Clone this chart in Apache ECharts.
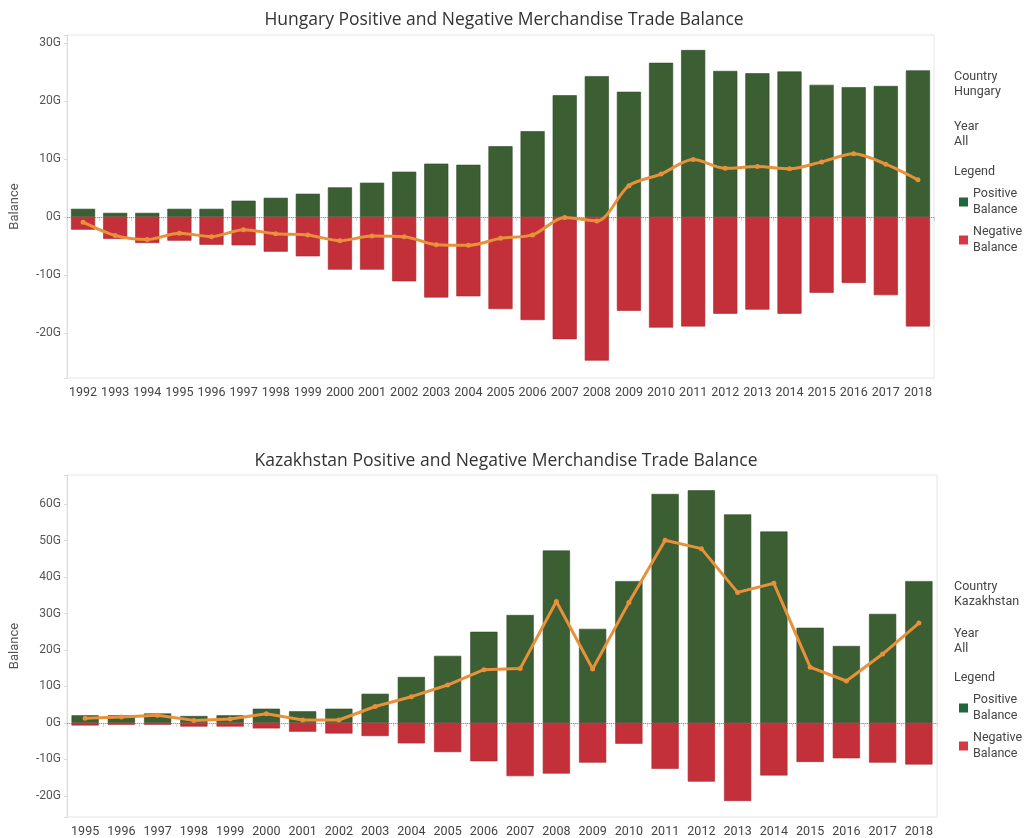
<!DOCTYPE html>
<html>
<head>
<meta charset="utf-8">
<title>Merchandise Trade Balance</title>
<script src="https://cdn.jsdelivr.net/npm/echarts@6/dist/echarts.min.js"></script>
<style>
  html, body { margin: 0; padding: 0; background: #fff; }
  #main { width: 1030px; height: 838px; }
</style>
</head>
<body>
<div id="main"></div>
<script>
// Hungary (values in G)
const huYears = ['1992','1993','1994','1995','1996','1997','1998','1999','2000','2001','2002','2003','2004','2005',
  '2006','2007','2008','2009','2010','2011','2012','2013','2014','2015','2016','2017','2018']
const huPositive = [1.4, 0.7, 0.7, 1.4, 1.4, 2.8, 3.3, 4.0, 5.1, 5.9, 7.8, 9.2, 9.0, 12.2,
  14.8, 21.0, 24.3, 21.6, 26.6, 28.8, 25.2, 24.8, 25.1, 22.8, 22.4, 22.6, 25.3]
const huNegative = [-2.2, -3.8, -4.5, -4.1, -4.8, -4.9, -6.0, -6.8, -9.1, -9.1, -11.1, -13.9, -13.7, -15.9,
  -17.8, -21.1, -24.8, -16.2, -19.1, -18.9, -16.7, -16.0, -16.7, -13.1, -11.4, -13.5, -18.9]
const huNet = [-0.9, -3.2, -3.9, -2.8, -3.4, -2.2, -2.9, -3.1, -4.1, -3.3, -3.4, -4.8, -4.9, -3.7,
  -3.1, -0.1, -0.7, 5.4, 7.4, 9.9, 8.4, 8.7, 8.3, 9.5, 10.9, 9.1, 6.4]

// Kazakhstan (values in G)
const kzYears = ['1995','1996','1997','1998','1999','2000','2001','2002','2003','2004','2005','2006',
  '2007','2008','2009','2010','2011','2012','2013','2014','2015','2016','2017','2018']
const kzPositive = [2.1, 2.1, 2.6, 1.9, 2.1, 3.9, 3.2, 3.9, 8.0, 12.6, 18.4, 25.0,
  29.6, 47.3, 25.8, 38.9, 62.8, 63.8, 57.2, 52.5, 26.1, 21.1, 29.9, 38.9]
const kzNegative = [-0.7, -0.5, -0.5, -1.0, -1.0, -1.5, -2.4, -2.9, -3.6, -5.6, -8.0, -10.5,
  -14.6, -13.9, -10.9, -5.7, -12.6, -16.1, -21.4, -14.4, -10.7, -9.7, -10.9, -11.4]
const kzNet = [1.3, 1.6, 2.1, 0.7, 1.1, 2.5, 0.8, 0.8, 4.5, 7.2, 10.4, 14.6,
  14.9, 33.3, 14.8, 33.0, 50.1, 47.8, 35.8, 38.3, 15.3, 11.5, 18.9, 27.4]

const GREEN = '#3b5e32'
const RED = '#c3303a'
const ORANGE = '#e8913a'
const FONT = 'Roboto'

const chart = echarts.init(document.getElementById('main'))

function yAxisFor(gridIndex, min, max, split) {
  return {
    type: 'value',
    gridIndex: gridIndex,
    min: min,
    max: max,
    splitNumber: split,
    name: 'Balance',
    nameLocation: 'middle',
    nameGap: 46,
    nameTextStyle: {color: '#555', fontSize: 13, fontFamily: FONT},
    axisLine: {show: true, lineStyle: {color: '#dcdcdc'}},
    axisTick: {show: true, length: 3, lineStyle: {color: '#dcdcdc'}},
    splitLine: {show: false},
    axisLabel: {
      color: '#555',
      fontSize: 12,
      fontFamily: FONT,
      margin: 6,
      formatter: function (v) {
        return Math.abs(v % 10) < 1e-6 ? Math.round(v) + 'G' : ''
      }
    }
  }
}

function xAxisFor(gridIndex, data) {
  return {
    type: 'category',
    gridIndex: gridIndex,
    data: data,
    boundaryGap: true,
    axisLine: {show: true, lineStyle: {color: '#d6d6d6'}},
    axisTick: {show: true, length: 4, lineStyle: {color: '#d6d6d6'}},
    axisLabel: {color: '#444', fontSize: 12.5, fontFamily: FONT, interval: 0, margin: 8}
  }
}

function seriesFor(idx, pos, neg, net, smooth) {
  return [
    {
      name: 'Positive Balance',
      type: 'bar',
      xAxisIndex: idx,
      yAxisIndex: idx,
      barWidth: '75%',
      barGap: '-100%',
      z: 2,
      itemStyle: {color: GREEN, borderColor: '#2f4b28', borderWidth: 0.6},
      markLine: {
        silent: true,
        z: 1,
        symbol: 'none',
        label: {show: false},
        lineStyle: {color: '#9a9a9a', type: 'dotted', width: 1},
        data: [{yAxis: 0}]
      },
      data: pos
    },
    {
      name: 'Negative Balance',
      type: 'bar',
      xAxisIndex: idx,
      yAxisIndex: idx,
      barWidth: '75%',
      barGap: '-100%',
      z: 2,
      itemStyle: {color: RED, borderColor: '#a8262e', borderWidth: 0.6},
      data: neg
    },
    {
      name: 'Net',
      type: 'line',
      xAxisIndex: idx,
      yAxisIndex: idx,
      z: 4,
      smooth: smooth,
      symbol: 'circle',
      symbolSize: 5,
      lineStyle: {color: ORANGE, width: 3},
      itemStyle: {color: ORANGE},
      data: net
    }
  ]
}

function sideText(x, y, text) {
  return {
    type: 'text',
    left: x,
    top: y,
    style: {text: text, fill: '#444', font: '12.5px Roboto', lineHeight: 15.5}
  }
}

function legendFor(top) {
  return {
    orient: 'vertical',
    left: 954,
    top: top,
    itemWidth: 9,
    itemHeight: 9,
    itemGap: 6,
    icon: 'rect',
    selectedMode: false,
    textStyle: {color: '#444', fontSize: 12.5, fontFamily: FONT, lineHeight: 16},
    formatter: function (name) {
      return name.replace(' ', '\n')
    },
    data: [
      {name: 'Positive Balance', itemStyle: {color: '#21673a', borderWidth: 0}},
      {name: 'Negative Balance', itemStyle: {color: '#d43a44', borderWidth: 0}}
    ]
  }
}

const option = {
  backgroundColor: '#fff',
  animation: false,
  title: [
    {
      text: 'Hungary Positive and Negative Merchandise Trade Balance',
      left: 499,
      top: 6,
      textAlign: 'center',
      textStyle: {color: '#333', fontSize: 17.5, fontWeight: 'normal', fontFamily: 'Open Sans'}
    },
    {
      text: 'Kazakhstan Positive and Negative Merchandise Trade Balance',
      left: 501,
      top: 447,
      textAlign: 'center',
      textStyle: {color: '#333', fontSize: 17.5, fontWeight: 'normal', fontFamily: 'Open Sans'}
    }
  ],
  legend: [legendFor(181), legendFor(687)],
  graphic: [
    sideText(954, 69, 'Country\nHungary'),
    sideText(954, 119, 'Year\nAll'),
    sideText(954, 164, 'Legend'),
    sideText(954, 579, 'Country\nKazakhstan'),
    sideText(954, 626, 'Year\nAll'),
    sideText(954, 670, 'Legend')
  ],
  grid: [
    {left: 64, right: 96, top: 35, height: 343, show: true, borderColor: '#e6e6e6', borderWidth: 1},
    {left: 67, right: 93, top: 475, height: 343, show: true, borderColor: '#e6e6e6', borderWidth: 1}
  ],
  xAxis: [xAxisFor(0, huYears), xAxisFor(1, kzYears)],
  yAxis: [yAxisFor(0, -27.8, 31.4, 5), yAxisFor(1, -25.8, 68, 9)],
  series: seriesFor(0, huPositive, huNegative, huNet, 0.3)
    .concat(seriesFor(1, kzPositive, kzNegative, kzNet, false))
}

chart.setOption(option)
</script>
</body>
</html>
